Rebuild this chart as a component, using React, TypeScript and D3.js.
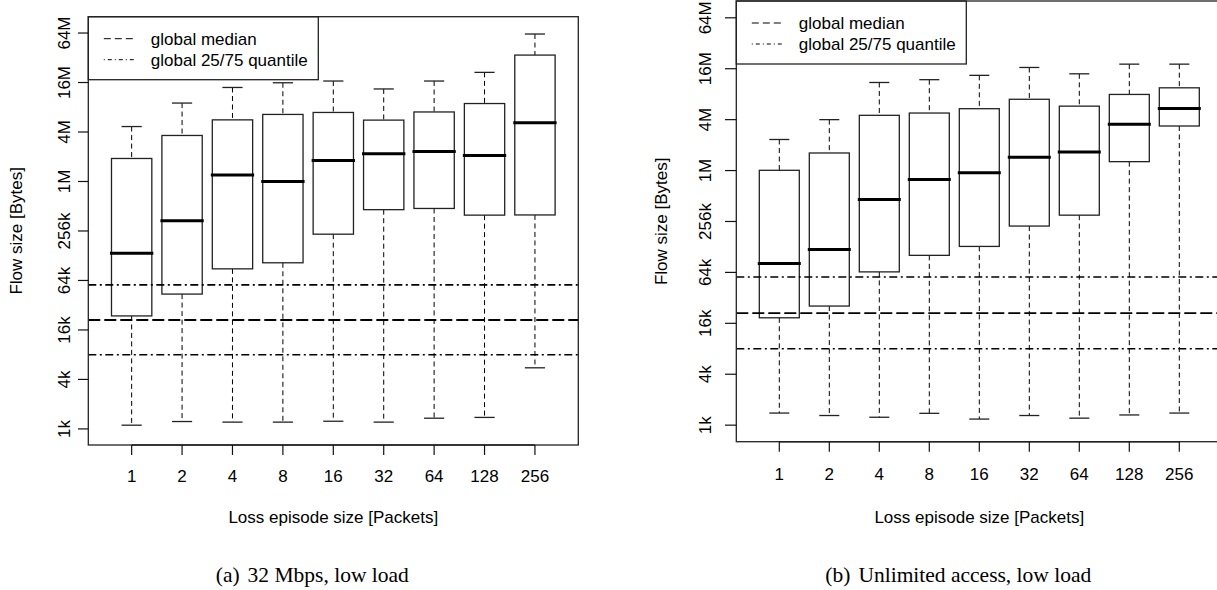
import React from 'react';
import * as d3 from 'd3';

// all flow sizes in kB (1k = 1024 bytes)
const episodeSizes = ['1', '2', '4', '8', '16', '32', '64', '128', '256'];
const yTickLabels = ['1k', '4k', '16k', '64k', '256k', '1M', '4M', '16M', '64M'];
const yTickValues = [1, 4, 16, 64, 256, 1024, 4096, 16384, 65536];

// (a) 32 Mbps, low load
const lowA = [1.11, 1.23, 1.21, 1.21, 1.24, 1.21, 1.35, 1.38, 5.54];
const q1A = [23.7, 43.7, 88.6, 105, 234, 465, 481, 399, 401];
const medA = [137, 340, 1226, 1024, 1846, 2226, 2370, 2120, 5296];
const q3A = [1951, 3717, 5755, 6701, 7082, 5715, 7180, 9093, 35340];
const highA = [4772, 9216, 14263, 16270, 17080, 13681, 17080, 21770, 63750];

// (b) Unlimited access, low load
const lowB = [1.39, 1.3, 1.24, 1.38, 1.18, 1.3, 1.21, 1.32, 1.39];
const q1B = [18.6, 25.6, 64.9, 101.8, 129.8, 226, 304, 1305, 3444];
const medB = [81.6, 119.4, 465, 803, 962, 1468, 1698, 3614, 5559];
const q3B = [1031, 1652, 4608, 4903, 5517, 7131, 5915, 8135, 9741];
const highB = [2386, 4096, 11264, 12157, 13681, 16957, 14263, 18560, 18560];

// global statistics over all flows
const globalQ25 = 8.0;
const globalMedian = 21.1;
const globalQ75 = 56.5;

const yDomain = [2 ** -0.65, 2 ** 16.66];

const SANS = '"Liberation Sans", Arial, Helvetica, sans-serif';
const SERIF = '"Liberation Serif", "Times New Roman", serif';
const DASH_DOT = '8,3.5,2,3.5';
const DASHED = '12,4';

function Panel({ box, low, q1, med, q3, high, caption, lab }) {
  const x = d3.scaleLinear().domain([0.14, 9.86]).range([box.x0, box.x1]);
  const y = d3.scaleLog().base(2).domain(yDomain).range([box.y1, box.y0]);
  const unit = x(1) - x(0);
  const half = unit * 0.4;
  const cap = unit * 0.2;
  const cx = (box.x0 + box.x1) / 2;
  const cy = (box.y0 + box.y1) / 2;

  return (
    <g>
      <defs>
        <clipPath id={`clip-${lab.id}`}>
          <rect x={box.x0} y={box.y0} width={box.x1 - box.x0} height={box.y1 - box.y0} />
        </clipPath>
      </defs>

      {episodeSizes.map((s, i) => {
        const px = x(i + 1);
        return (
          <g key={s}>
            <line x1={px} x2={px} y1={y(high[i])} y2={y(q3[i])} stroke="#000" strokeWidth={1} strokeDasharray="5,3.5" />
            <line x1={px} x2={px} y1={y(q1[i])} y2={y(low[i])} stroke="#000" strokeWidth={1} strokeDasharray="5,3.5" />
            <line x1={px - cap} x2={px + cap} y1={y(high[i])} y2={y(high[i])} stroke="#222" strokeWidth={1.3} />
            <line x1={px - cap} x2={px + cap} y1={y(low[i])} y2={y(low[i])} stroke="#222" strokeWidth={1.3} />
            <rect x={px - half} y={y(q3[i])} width={half * 2} height={y(q1[i]) - y(q3[i])} fill="none" stroke="#222" strokeWidth={1.3} />
            <line x1={px - half} x2={px + half} y1={y(med[i])} y2={y(med[i])} stroke="#000" strokeWidth={3} strokeLinecap="square" />
          </g>
        );
      })}

      <g clipPath={`url(#clip-${lab.id})`}>
        <line x1={box.x0} x2={box.x1} y1={y(globalQ75)} y2={y(globalQ75)} stroke="#000" strokeWidth={1.6} strokeDasharray={DASH_DOT} />
        <line x1={box.x0} x2={box.x1} y1={y(globalMedian)} y2={y(globalMedian)} stroke="#000" strokeWidth={1.9} strokeDasharray={DASHED} />
        <line x1={box.x0} x2={box.x1} y1={y(globalQ25)} y2={y(globalQ25)} stroke="#000" strokeWidth={1.6} strokeDasharray={DASH_DOT} />
      </g>

      {/* legend */}
      <rect x={box.x0} y={box.y0} width={230} height={63} fill="#fff" stroke="#222" strokeWidth={1.3} />
      <line x1={box.x0 + 15.5} x2={box.x0 + 46} y1={box.y0 + 22} y2={box.y0 + 22} stroke="#000" strokeWidth={1} strokeDasharray="7,4" />
      <line x1={box.x0 + 15.5} x2={box.x0 + 46} y1={box.y0 + 43} y2={box.y0 + 43} stroke="#000" strokeWidth={1} strokeDasharray="1,3,4,3" />
      <text x={box.x0 + 62.5} y={box.y0 + 28} fontSize={17} fontFamily={SANS}>global median</text>
      <text x={box.x0 + 62.5} y={box.y0 + 49} fontSize={17} fontFamily={SANS}>global 25/75 quantile</text>

      {/* plot frame */}
      <rect x={box.x0} y={box.y0} width={box.x1 - box.x0} height={box.y1 - box.y0} fill="none" stroke="#222" strokeWidth={1.3} />
      <line x1={x(1)} x2={x(9)} y1={box.y1} y2={box.y1} stroke="#222" strokeWidth={1.6} />

      {/* y axis */}
      {yTickValues.map((v, i) => (
        <g key={v}>
          <line x1={lab.tick0} x2={box.x0} y1={y(v)} y2={y(v)} stroke="#111" strokeWidth={1.2} />
          <text transform={`translate(${lab.yLabX},${y(v)}) rotate(-90)`} textAnchor="middle" fontSize={17} fontFamily={SANS}>
            {yTickLabels[i]}
          </text>
        </g>
      ))}
      <text transform={`translate(${lab.yTitleX},${cy}) rotate(-90)`} textAnchor="middle" fontSize={17} fontFamily={SANS}>
        Flow size [Bytes]
      </text>

      {/* x axis */}
      {episodeSizes.map((s, i) => (
        <g key={s}>
          <line x1={x(i + 1)} x2={x(i + 1)} y1={box.y1} y2={box.y1 + 10} stroke="#111" strokeWidth={1.2} />
          <text x={x(i + 1)} y={lab.xLabY} textAnchor="middle" fontSize={17} fontFamily={SANS}>{s}</text>
        </g>
      ))}
      <text x={cx} y={523} textAnchor="middle" fontSize={17} fontFamily={SANS}>Loss episode size [Packets]</text>

      <text x={cx - 21} y={582} textAnchor="middle" fontSize={21.5} fontFamily={SERIF}>
        <tspan>{caption[0]}</tspan>
        <tspan dx={8}>{caption[1]}</tspan>
      </text>
    </g>
  );
}

export default function App() {
  return (
    <svg width={1217} height={590} style={{ position: 'absolute', left: 0, top: 0, background: '#fff' }}>
      <rect width={1217} height={590} fill="#fff" />
      <Panel
        box={{ x0: 88.3, x1: 578.3, y0: 16.7, y1: 445 }}
        low={lowA} q1={q1A} med={medA} q3={q3A} high={highA}
        caption={['(a)', '32 Mbps, low load']}
        lab={{ id: 'a', tick0: 78, yLabX: 70, yTitleX: 22, xLabY: 482 }}
      />
      <Panel
        box={{ x0: 736.3, x1: 1222.3, y0: 1, y1: 441.7 }}
        low={lowB} q1={q1B} med={medB} q3={q3B} high={highB}
        caption={['(b)', 'Unlimited access, low load']}
        lab={{ id: 'b', tick0: 725, yLabX: 711, yTitleX: 667, xLabY: 480 }}
      />
    </svg>
  );
}
